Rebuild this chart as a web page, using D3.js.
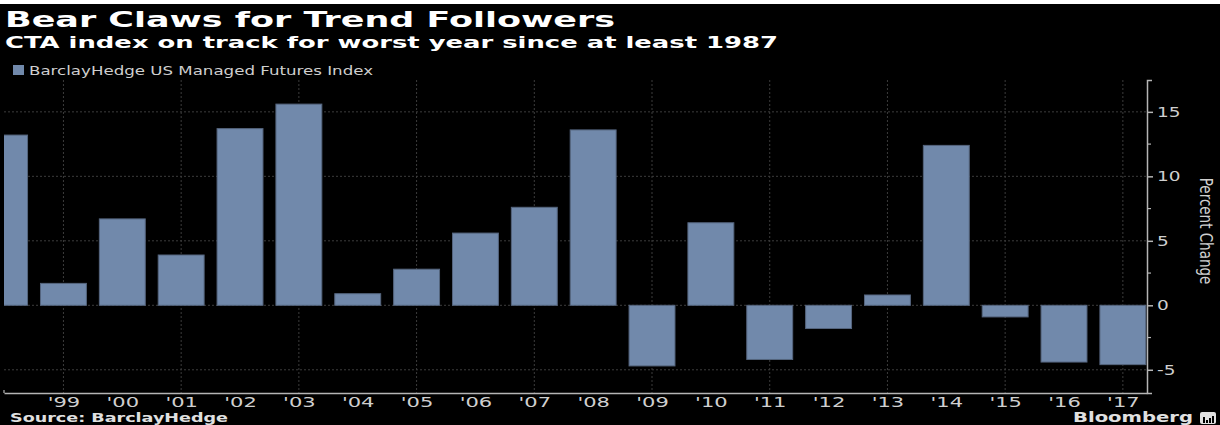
<!DOCTYPE html>
<html>
<head>
<meta charset="utf-8">
<script src="https://cdn.jsdelivr.net/npm/d3@7"></script>
<style>
  html, body { margin: 0; padding: 0; background: #000; }
  svg { display: block; }
  text { font-family: "DejaVu Sans", Verdana, sans-serif; }
</style>
</head>
<body>
<svg id="chart" width="1220" height="425"></svg>
<script>
// ---------- data ----------
const years = [1998, 1999, 2000, 2001, 2002, 2003, 2004, 2005, 2006, 2007,
               2008, 2009, 2010, 2011, 2012, 2013, 2014, 2015, 2016, 2017];
const values = [13.2, 1.7, 6.7, 3.9, 13.7, 15.6, 0.9, 2.8, 5.6, 7.6,
                13.6, -4.7, 6.4, -4.2, -1.8, 0.8, 12.4, -0.9, -4.4, -4.6];
const yTicks = [-5, 0, 5, 10, 15];
const yMinorTicks = [-2.5, 2.5, 7.5, 12.5];
const xLabelYears = [1999, 2000, 2001, 2002, 2003, 2004, 2005, 2006, 2007, 2008,
                     2009, 2010, 2011, 2012, 2013, 2014, 2015, 2016, 2017];
const xGridYears = [1999, 2001, 2003, 2005, 2007, 2009, 2011, 2013, 2015, 2017];
const title = "Bear Claws for Trend Followers";
const subtitle = "CTA index on track for worst year since at least 1987";
const legendLabel = "BarclayHedge US Managed Futures Index";
const axisTitle = "Percent Change";
const sourceText = "Source: BarclayHedge";
const brand = "Bloomberg";

// ---------- layout ----------
const plot = { left: 4, right: 1147, top: 80, bottom: 393 };
const barColor = "#7189ab";
const barStroke = "#55657e";
const gridColor = "#3c3c3c";
const axisColor = "#b5b5b5";
const labelColor = "#cfcfcf";

const svg = d3.select("#chart");
svg.append("rect").attr("width", 1220).attr("height", 425).attr("fill", "#000");
svg.append("rect").attr("width", 1220).attr("height", 4).attr("fill", "#fff");

const x = d3.scaleLinear().domain([1997.99, 2017.41]).range([plot.left, plot.right]);
const y = d3.scaleLinear().domain([-6.8, 17.47]).range([plot.bottom, plot.top]);
const step = x(1999) - x(1998);
const barW = step * 0.78;

function stretch(sel, f) {
  sel.each(function () {
    const w = this.getComputedTextLength();
    d3.select(this).attr("textLength", w * f).attr("lengthAdjust", "spacingAndGlyphs");
  });
}

// clip
svg.append("defs").append("clipPath").attr("id", "plotclip")
  .append("rect").attr("x", plot.left).attr("y", plot.top)
  .attr("width", plot.right - plot.left).attr("height", plot.bottom - plot.top);

// gridlines
const grid = svg.append("g").attr("clip-path", "url(#plotclip)");
grid.selectAll("line.h").data(yTicks).join("line")
  .attr("x1", plot.left).attr("x2", plot.right)
  .attr("y1", d => y(d)).attr("y2", d => y(d))
  .attr("stroke", gridColor).attr("stroke-width", 1).attr("stroke-dasharray", "2,2");
grid.selectAll("line.v").data(xGridYears).join("line")
  .attr("x1", d => x(d)).attr("x2", d => x(d))
  .attr("y1", plot.top).attr("y2", plot.bottom)
  .attr("stroke", gridColor).attr("stroke-width", 1).attr("stroke-dasharray", "2,2");

// bars
const bars = svg.append("g").attr("clip-path", "url(#plotclip)");
bars.selectAll("rect").data(years.map((yr, i) => ({ yr, v: values[i] }))).join("rect")
  .attr("x", d => x(d.yr) - barW / 2)
  .attr("width", barW)
  .attr("y", d => y(Math.max(0, d.v)))
  .attr("height", d => Math.abs(y(d.v) - y(0)))
  .attr("fill", barColor)
  .attr("stroke", barStroke)
  .attr("stroke-width", 1);

// right axis
const yAxis = d3.axisRight(y).tickValues(yTicks).tickSize(6).tickSizeOuter(5).tickFormat(d3.format("d"));
const gy = svg.append("g").attr("transform", `translate(${plot.right},0)`).call(yAxis);
gy.select(".domain").attr("stroke", axisColor).attr("stroke-width", 1.5);
gy.selectAll(".tick line").attr("stroke", axisColor).attr("stroke-width", 1.5);
gy.selectAll(".tick text").attr("fill", labelColor).attr("font-size", 14)
  .attr("x", 10).attr("font-family", "DejaVu Sans")
  .text(d => d < 0 ? "-" + Math.abs(d) : d);
stretch(gy.selectAll(".tick text"), 1.32);
svg.append("g").selectAll("line").data(yMinorTicks).join("line")
  .attr("x1", plot.right).attr("x2", plot.right + 4)
  .attr("y1", d => y(d)).attr("y2", d => y(d))
  .attr("stroke", axisColor).attr("stroke-width", 1.2);

// bottom axis
const xAxis = d3.axisBottom(x).tickValues(xLabelYears).tickSize(0).tickSizeOuter(0)
  .tickFormat(d => "'" + String(d).slice(2));
const gx = svg.append("g").attr("transform", `translate(0,${plot.bottom})`).call(xAxis);
gx.select(".domain").attr("stroke", axisColor).attr("stroke-width", 1.5);
gx.selectAll(".tick text").attr("fill", labelColor).attr("font-size", 14.5)
  .attr("font-family", "DejaVu Sans").attr("dy", 0).attr("y", 14);
stretch(gx.selectAll(".tick text"), 1.45);
svg.append("line").attr("x1", plot.left).attr("x2", plot.left)
  .attr("y1", plot.bottom - 3).attr("y2", plot.bottom)
  .attr("stroke", axisColor).attr("stroke-width", 1.2);

// axis title
svg.append("text").text(axisTitle)
  .attr("transform", "translate(1200,231) scale(1.35,1) rotate(90)")
  .attr("text-anchor", "middle").attr("font-size", 13.5).attr("fill", labelColor);

// titles
svg.append("text").text(title).attr("x", 5).attr("y", 27)
  .attr("font-size", 21).attr("font-weight", "bold").attr("fill", "#fff")
  .attr("textLength", 610).attr("lengthAdjust", "spacingAndGlyphs");
svg.append("text").text(subtitle).attr("x", 5).attr("y", 48)
  .attr("font-size", 16).attr("font-weight", "bold").attr("fill", "#fff")
  .attr("textLength", 773).attr("lengthAdjust", "spacingAndGlyphs");

// legend
svg.append("rect").attr("x", 13).attr("y", 65).attr("width", 11).attr("height", 10).attr("fill", barColor);
svg.append("text").text(legendLabel).attr("x", 29).attr("y", 75)
  .attr("font-size", 13).attr("fill", labelColor)
  .attr("textLength", 344).attr("lengthAdjust", "spacingAndGlyphs");

// footer
svg.append("text").text(sourceText).attr("x", 10).attr("y", 422)
  .attr("font-size", 13).attr("font-weight", "bold").attr("fill", "#e0e0e0")
  .attr("textLength", 218).attr("lengthAdjust", "spacingAndGlyphs");
svg.append("text").text(brand).attr("x", 1073).attr("y", 422)
  .attr("font-size", 14).attr("font-weight", "bold").attr("fill", "#e0e0e0")
  .attr("textLength", 120).attr("lengthAdjust", "spacingAndGlyphs");
const logo = svg.append("g").attr("transform", "translate(1200,412)");
logo.append("rect").attr("width", 16).attr("height", 12).attr("rx", 2).attr("fill", "#e0e0e0");
logo.selectAll("rect.b").data([[3, 6], [6, 3], [9, 5], [12, 7]]).join("rect")
  .attr("x", d => d[0]).attr("y", d => 12 - d[1] - 1).attr("width", 2).attr("height", d => d[1])
  .attr("fill", "#000");
</script>
</body>
</html>
